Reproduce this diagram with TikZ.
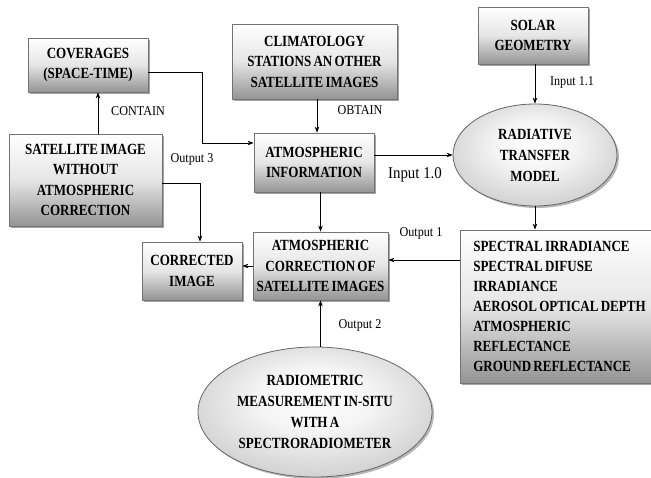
\documentclass[tikz,border=0pt]{standalone}
\usepackage{fontspec}
\setmainfont{Liberation Serif}
\newfontfamily\boxfont{Liberation Serif}[FakeStretch=0.84, WordSpace=0.7]
\newfontfamily\lblfont{Liberation Serif}[FakeStretch=0.9]
\usetikzlibrary{arrows.meta,shapes.geometric,shadows,calc}
\pgfdeclareradialshading{ellsh}{\pgfpoint{0bp}{6bp}}{color(0bp)=(white); color(12bp)=(white!96!black); color(50bp)=(black!36); color(60bp)=(black!36)}
\begin{document}
\begin{tikzpicture}[x=1pt,y=1pt,
  boxst/.style={rectangle, draw=black!55, line width=0.8pt, inner sep=0pt,
    top color=white, bottom color=black!42, middle color=black!10,
    drop shadow={shadow xshift=2pt, shadow yshift=-2pt, fill=black!45, opacity=0.8},
    align=center, font={\boxfont\bfseries\fontsize{15.5}{20.5}\selectfont}},
  ellst/.style={ellipse, draw=black!60, line width=0.8pt, inner sep=0pt,
    shading=ellsh,
    drop shadow={shadow xshift=2pt, shadow yshift=-2pt, fill=black!40, opacity=0.7},
    align=center, font={\boxfont\bfseries\fontsize{15.5}{21}\selectfont}},
  arr/.style={draw=black, line width=0.7pt, -{Stealth[length=6pt,width=4.5pt]}},
  lbl/.style={font={\lblfont\fontsize{13.5}{15}\selectfont}, inner sep=0pt},
]
\useasboundingbox (0,0) rectangle (651,478);

\node[boxst, minimum width=120, minimum height=54] (cov) at (88,413) {COVERAGES\\(SPACE-TIME)};
\node[boxst, minimum width=165, minimum height=75] (clim) at (314.5,416.5) {CLIMATOLOGY\\STATIONS AN OTHER\\SATELLITE IMAGES};
\node[boxst, minimum width=110, minimum height=57] (solar) at (533,442.5) {SOLAR\\GEOMETRY};
\node[boxst, minimum width=153, minimum height=92] (sat) at (85.5,298) {SATELLITE IMAGE\\WITHOUT\\ATMOSPHERIC\\CORRECTION};
\node[boxst, minimum width=120, minimum height=59] (info) at (314,315.5) {ATMOSPHERIC\\INFORMATION};
\node[ellst, minimum width=164, minimum height=102] (rtm) at (535,323) {RADIATIVE\\TRANSFER\\MODEL};
\node[boxst, minimum width=135, minimum height=68] (corr) at (320.5,212) {ATMOSPHERIC\\CORRECTION OF\\SATELLITE IMAGES};
\node[boxst, minimum width=100, minimum height=58] (cimg) at (192,207) {CORRECTED\\IMAGE};
\node[boxst, minimum height=153, minimum width=199, align=left, font={\boxfont\bfseries\fontsize{15.5}{20}\selectfont}] (outb) at (559.5,171.5) {SPECTRAL IRRADIANCE\\SPECTRAL DIFUSE\\IRRADIANCE\\AEROSOL OPTICAL DEPTH\\ATMOSPHERIC\\REFLECTANCE\\GROUND REFLECTANCE};
\node[ellst, minimum width=234, minimum height=130] (rad) at (315,66) {RADIOMETRIC\\MEASUREMENT IN-SITU\\WITH A\\SPECTRORADIOMETER};

% connectors
\draw[arr] ([xshift=12.5pt]sat.north) -- ([xshift=10pt]cov.south);
\draw[arr] ([yshift=-7pt]cov.east) -- ++(54,0) |- ([yshift=19.5pt]info.west);
\draw[arr] ([yshift=-3pt]sat.east) -| ([xshift=8pt]cimg.north);
\draw[arr] ([xshift=3pt]info.north |- clim.south) -- ([xshift=3pt]info.north);
\draw[arr] (info.east |- rtm.west) -- (rtm.west);
\draw[arr] (rtm.north |- solar.south) -- (rtm.north);
\draw[arr] (corr.north |- info.south) -- (corr.north);
\draw[arr] (rtm.south) -- (rtm.south |- outb.north);
\draw[arr] ([yshift=6pt]corr.east -| outb.west) -- ([yshift=6pt]corr.east);
\draw[arr] (corr.west) -- (corr.west -| cimg.east);
\draw[arr] (rad.north -| corr.south) -- (corr.south);

% labels
\node[lbl] (lcontain) at (138,367) {CONTAIN};
\node[lbl] (lout3) at (192,319) {Output 3};
\node[lbl] (lobtain) at (360,368) {OBTAIN};
\node[lbl, font={\lblfont\fontsize{16.5}{18}\selectfont}] (lin10) at (415,303) {Input 1.0};
\node[lbl] (lin11) at (572,396) {Input 1.1};
\node[lbl] (lout1) at (421,245) {Output 1};
\node[lbl] (lout2) at (360,153) {Output 2};
\end{tikzpicture}
\end{document}
